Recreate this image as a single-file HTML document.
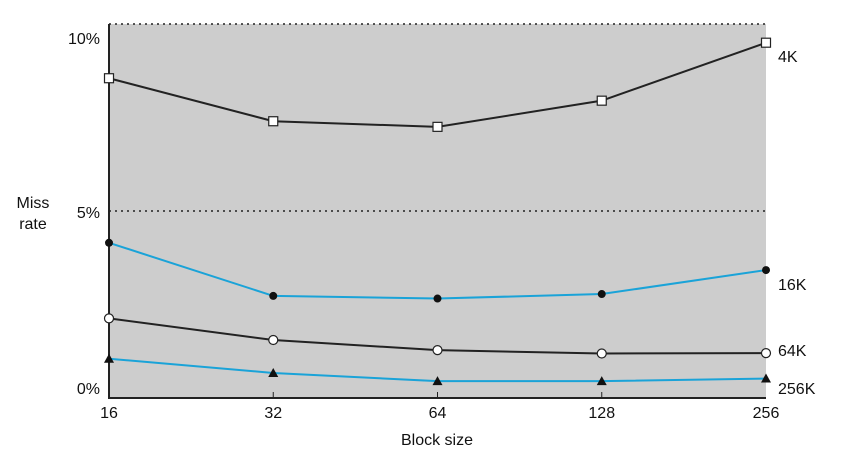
<!DOCTYPE html>
<html><head><meta charset="utf-8"><style>
body{margin:0;background:#fff;}
svg text{font-family:"Liberation Sans",Arial,sans-serif;fill:#111;}
</style></head><body>
<svg width="843" height="469" xmlns="http://www.w3.org/2000/svg">
<rect x="109" y="24" width="657" height="374" fill="#cdcdcd"/>
<line x1="109" y1="24" x2="766" y2="24" stroke="#222" stroke-width="1.5" stroke-dasharray="2,4"/>
<line x1="109" y1="211" x2="766" y2="211" stroke="#222" stroke-width="1.5" stroke-dasharray="2,4"/>
<line x1="109" y1="24" x2="109" y2="399" stroke="#222" stroke-width="2"/>
<line x1="108" y1="398" x2="766" y2="398" stroke="#222" stroke-width="2"/>
<text x="100" y="44" font-size="16" text-anchor="end">10%</text>
<text x="100" y="218" font-size="16" text-anchor="end">5%</text>
<text x="100" y="394" font-size="16" text-anchor="end">0%</text>
<text x="33" y="208" font-size="16" text-anchor="middle">Miss</text>
<text x="33" y="229" font-size="16" text-anchor="middle">rate</text>
<text x="437" y="445" font-size="16" text-anchor="middle">Block size</text>
<g id="marks"></g>
</svg>
<script>
const categories=["16","32","64","128","256"];
const s4K=[8.55,7.4,7.25,7.95,9.5];
const s16K=[4.15,2.73,2.66,2.78,3.42];
const s64K=[2.13,1.55,1.28,1.19,1.2];
const s256K=[1.05,0.67,0.45,0.45,0.52];
const seriesNames=["4K","16K","64K","256K"];
const NS="http://www.w3.org/2000/svg";
function x(i){return 109+(766-109)*i/(categories.length-1);}
function y(v){return 398-v*37.4;}
const svg=document.querySelector('svg');
const g=document.getElementById('marks');
function el(t,a){const e=document.createElementNS(NS,t);for(const k in a)e.setAttribute(k,a[k]);return e;}
categories.forEach((c,i)=>{
 const t=el('text',{x:x(i),y:418,'font-size':16,'text-anchor':'middle'});t.textContent=c;
 
 
 svg.appendChild(t);
 if(i>0&&i<categories.length-1){const tk=el('line',{x1:x(i),y1:392,x2:x(i),y2:398,stroke:'#222','stroke-width':1});
 
 
 svg.appendChild(tk);}
});
const all=[[s4K,'#222','square'],[s16K,'#1aa3d8','dot'],[s64K,'#222','circle'],[s256K,'#1aa3d8','tri']];
const labelY=[62,290,356,394];
all.forEach(([d,col,m],si)=>{
 const pts=d.map((v,i)=>x(i)+','+y(v)).join(' ');
 const pl=el('polyline',{points:pts,fill:'none',stroke:col,'stroke-width':2});
 
 
 g.appendChild(pl);
 d.forEach((v,i)=>{
  let mk;const cx=x(i),cy=y(v);
  if(m==='square')mk=el('rect',{x:cx-4.5,y:cy-4.5,width:9,height:9,fill:'#fff',stroke:'#222','stroke-width':1.2});
  else if(m==='dot')mk=el('circle',{cx:cx,cy:cy,r:4,fill:'#111'});
  else if(m==='circle')mk=el('circle',{cx:cx,cy:cy,r:4.5,fill:'#fff',stroke:'#222','stroke-width':1.2});
  else mk=el('polygon',{points:`${cx},${cy-5} ${cx-5},${cy+4} ${cx+5},${cy+4}`,fill:'#111'});
  
  
  g.appendChild(mk);
 });
 const t=el('text',{x:778,y:labelY[si],'font-size':16});t.textContent=seriesNames[si];
 
 
 svg.appendChild(t);
});
</script>
</body></html>
